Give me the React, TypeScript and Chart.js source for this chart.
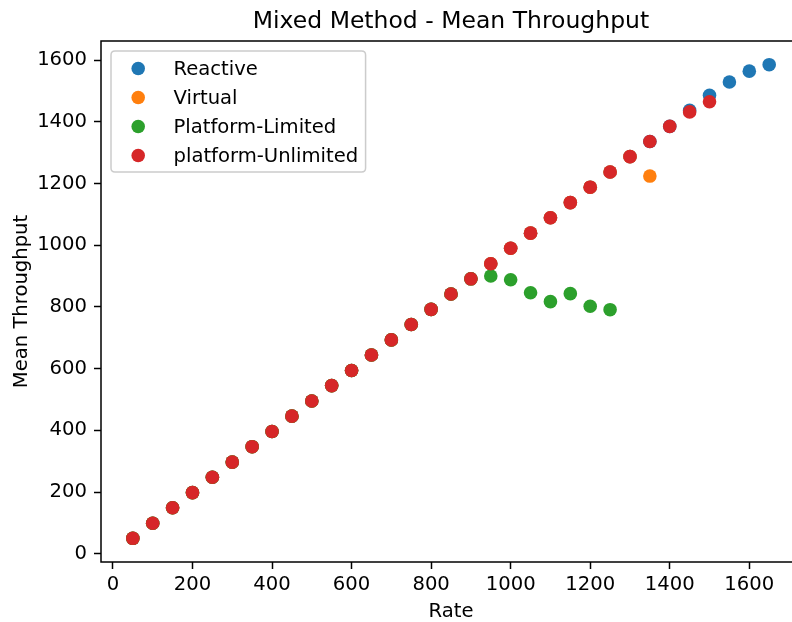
import React, { useEffect, useRef } from "react";
import { Chart, registerables } from "chart.js";

Chart.register(...registerables);

const TITLE = "Mixed Method - Mean Throughput";
const X_LABEL = "Rate";
const Y_LABEL = "Mean Throughput";

const reactiveRate = [50, 100, 150, 200, 250, 300, 350, 400, 450, 500, 550, 600, 650, 700, 750, 800, 850, 900, 950, 1000, 1050, 1100, 1150, 1200, 1250, 1300, 1350, 1400, 1450, 1500, 1550, 1600, 1650];
const reactiveTput = [50, 99, 149, 198, 248, 297, 347, 396, 446, 495, 545, 594, 644, 693, 743, 792, 842, 891, 940, 990, 1039, 1089, 1138, 1188, 1237, 1287, 1336, 1385, 1437, 1486, 1529, 1564, 1585];

const virtualRate = [50, 100, 150, 200, 250, 300, 350, 400, 450, 500, 550, 600, 650, 700, 750, 800, 850, 900, 950, 1000, 1050, 1100, 1150, 1200, 1250, 1300, 1350];
const virtualTput = [50, 99, 149, 198, 248, 297, 347, 396, 446, 495, 545, 594, 644, 693, 743, 792, 842, 891, 940, 990, 1039, 1089, 1138, 1188, 1237, 1287, 1224];

const limitedRate = [50, 100, 150, 200, 250, 300, 350, 400, 450, 500, 550, 600, 650, 700, 750, 800, 850, 900, 950, 1000, 1050, 1100, 1150, 1200, 1250];
const limitedTput = [50, 99, 149, 198, 248, 297, 347, 396, 446, 495, 545, 594, 644, 693, 743, 792, 842, 891, 900, 888, 846, 817, 843, 802, 791];

const unlimitedRate = [50, 100, 150, 200, 250, 300, 350, 400, 450, 500, 550, 600, 650, 700, 750, 800, 850, 900, 950, 1000, 1050, 1100, 1150, 1200, 1250, 1300, 1350, 1400, 1450, 1500];
const unlimitedTput = [50, 99, 149, 198, 248, 297, 347, 396, 446, 495, 545, 594, 644, 693, 743, 792, 842, 891, 940, 990, 1039, 1089, 1138, 1188, 1237, 1287, 1336, 1385, 1432, 1465];

const seriesNames = ["Reactive", "Virtual", "Platform-Limited", "platform-Unlimited"];
const seriesColors = ["#1f77b4", "#ff7f0e", "#2ca02c", "#d62728"];

const xTicks = [0, 200, 400, 600, 800, 1000, 1200, 1400, 1600];
const yTicks = [0, 200, 400, 600, 800, 1000, 1200, 1400, 1600];

const FONT = "DejaVu Sans";
const FS = 19.6;

function pts(xs: number[], ys: number[]) {
  return xs.map((x, i) => ({ x, y: ys[i] }));
}

const decorPlugin = {
  id: "decor",
  afterDatasetsDraw(chart: any) {
    const { ctx, chartArea: a } = chart;
    ctx.save();
    ctx.strokeStyle = "#000";
    ctx.lineWidth = 1.5;
    ctx.strokeRect(a.left, a.top, a.right - a.left, a.bottom - a.top);
    ctx.restore();
  },
  afterDraw(chart: any) {
    const { ctx, chartArea: a } = chart;
    ctx.save();
    ctx.fillStyle = "#000";
    ctx.font = `23.5px "${FONT}"`;
    ctx.textAlign = "center";
    ctx.textBaseline = "alphabetic";
    const cx = (a.left + a.right) / 2;
    ctx.fillText(TITLE, cx, 28);
    ctx.font = `${FS}px "${FONT}"`;
    ctx.fillText(X_LABEL, cx, 617);
    ctx.save();
    ctx.translate(27, (a.top + a.bottom) / 2);
    ctx.rotate(-Math.PI / 2);
    ctx.fillText(Y_LABEL, 0, 0);
    ctx.restore();

    // legend
    ctx.font = `${FS}px "${FONT}"`;
    let maxW = 0;
    seriesNames.forEach((n) => {
      maxW = Math.max(maxW, ctx.measureText(n).width);
    });
    const bx = a.left + 10;
    const by = a.top + 10;
    const bw = 7.8 + 38.8 + 15.5 + maxW + 7.8;
    const bh = 121;
    const r = 4;
    ctx.beginPath();
    ctx.moveTo(bx + r, by);
    ctx.lineTo(bx + bw - r, by);
    ctx.quadraticCurveTo(bx + bw, by, bx + bw, by + r);
    ctx.lineTo(bx + bw, by + bh - r);
    ctx.quadraticCurveTo(bx + bw, by + bh, bx + bw - r, by + bh);
    ctx.lineTo(bx + r, by + bh);
    ctx.quadraticCurveTo(bx, by + bh, bx, by + bh - r);
    ctx.lineTo(bx, by + r);
    ctx.quadraticCurveTo(bx, by, bx + r, by);
    ctx.closePath();
    ctx.fillStyle = "rgba(255,255,255,0.8)";
    ctx.fill();
    ctx.strokeStyle = "#cccccc";
    ctx.lineWidth = 1.5;
    ctx.stroke();
    ctx.textAlign = "left";
    ctx.textBaseline = "middle";
    seriesNames.forEach((n, i) => {
      const yy = by + 17.5 + i * 29;
      ctx.beginPath();
      ctx.arc(bx + 27.2, yy, 6.8, 0, Math.PI * 2);
      ctx.fillStyle = seriesColors[i];
      ctx.fill();
      ctx.fillStyle = "#000";
      ctx.fillText(n, bx + 62.5, yy + 1);
    });
    ctx.restore();
  },
};

export default function App() {
  const ref = useRef<HTMLCanvasElement | null>(null);
  useEffect(() => {
    if (!ref.current) return;
    Chart.defaults.font.family = FONT;
    const data = [
      pts(reactiveRate, reactiveTput),
      pts(virtualRate, virtualTput),
      pts(limitedRate, limitedTput),
      pts(unlimitedRate, unlimitedTput),
    ];
    const chart = new Chart(ref.current, {
      type: "scatter",
      data: {
        datasets: data.map((d, i) => ({
          label: seriesNames[i],
          data: d,
          backgroundColor: seriesColors[i],
          borderColor: seriesColors[i],
          borderWidth: 0,
          pointRadius: 6.8,
          pointHoverRadius: 6.8,
          order: 3 - i,
        })),
      },
      options: {
        animation: false,
        responsive: false,
        devicePixelRatio: 1,
        events: [],
        layout: { padding: { left: 0, top: 41, right: 9, bottom: 0 } },
        plugins: {
          legend: { display: false },
          tooltip: { enabled: false },
          title: { display: false },
        },
        scales: {
          x: {
            type: "linear",
            min: -30,
            max: 1730,
            afterBuildTicks: (axis: any) => {
              axis.ticks = xTicks.map((v) => ({ value: v }));
            },
            afterFit: (s: any) => {
              s.height = 60;
            },
            border: { display: false },
            grid: {
              drawOnChartArea: false,
              drawTicks: true,
              tickLength: 7,
              tickWidth: 1.5,
              tickColor: "#000",
            },
            ticks: {
              color: "#000",
              font: { size: FS, family: FONT },
              padding: 4,
              maxRotation: 0,
              autoSkip: false,
              callback: (v: any) => String(v),
            },
          },
          y: {
            type: "linear",
            min: -26.75,
            max: 1661.75,
            afterBuildTicks: (axis: any) => {
              axis.ticks = yTicks.map((v) => ({ value: v }));
            },
            afterFit: (s: any) => {
              s.width = 101;
            },
            border: { display: false },
            grid: {
              drawOnChartArea: false,
              drawTicks: true,
              tickLength: 7,
              tickWidth: 1.5,
              tickColor: "#000",
            },
            ticks: {
              color: "#000",
              font: { size: FS, family: FONT },
              padding: 7,
              autoSkip: false,
              callback: (v: any) => String(v),
            },
          },
        },
      },
      plugins: [decorPlugin],
    } as any);
    return () => chart.destroy();
  }, []);
  return (
    <div style={{ position: "absolute", left: 0, top: 0, width: 792, height: 622, overflow: "hidden", background: "#fff" }}>
      <canvas ref={ref} width={810} height={622} style={{ display: "block" }} />
    </div>
  );
}
